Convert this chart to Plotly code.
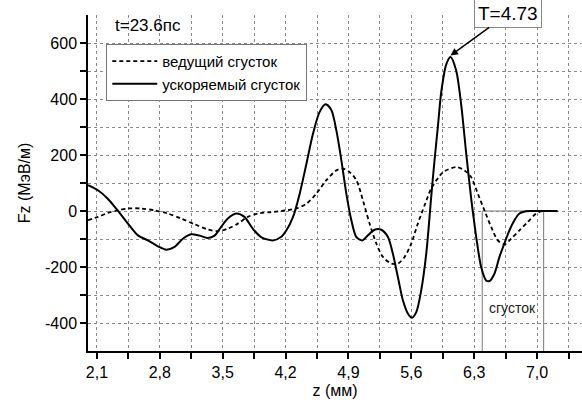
import plotly.graph_objects as go

# ---- data ----
z_acc = [2.00, 2.11, 2.22, 2.33, 2.445, 2.556, 2.667, 2.778, 2.871, 2.964, 3.056, 3.148,
         3.242, 3.334, 3.409, 3.482, 3.557, 3.649, 3.742, 3.834, 3.927, 4.057, 4.149, 4.209,
         4.283, 4.357, 4.432, 4.505, 4.579, 4.646, 4.710, 4.765, 4.821, 4.876, 4.932, 4.988,
         5.054, 5.117, 5.191, 5.265, 5.339, 5.394, 5.450, 5.506, 5.561, 5.606, 5.655, 5.710,
         5.766, 5.821, 5.858, 5.895, 5.933, 5.988, 6.036, 6.099, 6.155, 6.211, 6.266, 6.300,
         6.330, 6.377, 6.433, 6.470, 6.525, 6.581, 6.636, 6.692, 6.748, 6.803, 6.878, 6.950,
         7.229]
f_acc = [92, 74, 44, 2, -45, -87, -105, -126, -138, -128, -99, -83,
         -88, -96, -88, -57, -27, -9, -21, -63, -93, -105, -93, -69,
         -21, 62, 169, 276, 354, 381, 360, 288, 181, 62, -33, -93,
         -105, -87, -67, -67, -93, -152, -236, -319, -366, -381, -361, -283,
         -152, 50, 181, 300, 425, 523, 550, 502, 380, 205, 45, -40,
         -110, -200, -248, -250, -224, -164, -116, -69, -33, -9, -1, 0,
         0]

z_lead = [2.00, 2.111, 2.222, 2.333, 2.445, 2.593, 2.741, 2.889, 3.037, 3.185, 3.334, 3.445,
          3.557, 3.668, 3.779, 3.890, 4.038, 4.224, 4.320, 4.432, 4.543, 4.654, 4.765, 4.839,
          4.913, 4.988, 5.061, 5.135, 5.210, 5.283, 5.377, 5.450, 5.525, 5.599, 5.672, 5.747,
          5.821, 5.914, 5.969, 6.105, 6.192, 6.266, 6.340, 6.414, 6.489, 6.562, 6.636, 6.711,
          6.803, 6.896, 6.989, 7.044, 7.100, 7.229]
f_lead = [-33, -21, -7, 2, 9, 9, 2, -9, -27, -47, -66, -72,
          -63, -45, -21, -9, -4, 3, 9, 26, 62, 110, 145, 151,
          139, 110, 38, -45, -116, -164, -188, -188, -164, -116, -45, 20,
          80, 125, 142, 157, 145, 121, 62, 2, -57, -105, -119, -99,
          -69, -39, -9, -1, 0, 0]

x_tickvals = [2.1, 2.45, 2.8, 3.15, 3.5, 3.85, 4.2, 4.55, 4.9, 5.25, 5.6, 5.95, 6.3, 6.65, 7.0, 7.35]
x_ticktext = ["2,1", "", "2,8", "", "3,5", "", "4,2", "", "4,9", "", "5,6", "", "6,3", "", "7,0", ""]
y_tickvals = [-400, -300, -200, -100, 0, 100, 200, 300, 400, 500, 600]
y_ticktext = ["-400", "", "-200", "", "0", "", "200", "", "400", "", "600"]

bunch_left = 6.389
bunch_right = 7.073
peak_z = 6.036
peak_f = 550

FONT = "Arial, Liberation Sans, sans-serif"

fig = go.Figure()
fig.add_trace(go.Scatter(x=z_lead, y=f_lead, mode="lines", name="ведущий сгусток",
                         line=dict(color="black", width=1.8, dash="4px,3px", shape="spline", smoothing=0.8)))
fig.add_trace(go.Scatter(x=z_acc, y=f_acc, mode="lines", name="ускоряемый сгусток",
                         line=dict(color="black", width=2, shape="spline", smoothing=0.8)))

# bunch region box
fig.add_shape(type="line", x0=bunch_left, x1=bunch_left, y0=-500, y1=0, xref="x", yref="y",
              line=dict(color="#777", width=1), layer="below")
fig.add_shape(type="line", x0=bunch_right, x1=bunch_right, y0=-500, y1=0, xref="x", yref="y",
              line=dict(color="#777", width=1), layer="below")
fig.add_shape(type="line", x0=bunch_left, x1=bunch_right, y0=0, y1=0, xref="x", yref="y",
              line=dict(color="#777", width=1), layer="below")

fig.add_annotation(x=(bunch_left + bunch_right) / 2, y=-345, text="сгусток", showarrow=False,
                   font=dict(family=FONT, size=14, color="#222"))
fig.add_annotation(x=2.278, y=662, xanchor="left", text="t=23.6пс", showarrow=False,
                   font=dict(family=FONT, size=17, color="black"))
fig.add_annotation(x=peak_z, y=peak_f + 5, ax=6.68, ay=706, axref="x", ayref="y",
                   text="T=4.73", showarrow=True, arrowhead=2, arrowsize=1, arrowwidth=1.5,
                   arrowcolor="black", bgcolor="white", bordercolor="#888", borderwidth=1,
                   borderpad=3, font=dict(family=FONT, size=19, color="black"))

grid = dict(showgrid=True, gridcolor="#8a8a8a", gridwidth=1, griddash="3px,3px")
fig.update_xaxes(range=[2.0, 7.5], tickvals=x_tickvals, ticktext=x_ticktext, ticks="outside",
                 ticklen=6, tickwidth=1.5, tickcolor="black", showline=True, linecolor="black",
                 linewidth=1.5, zeroline=False, title=dict(text="z (мм)", standoff=5,
                 font=dict(family=FONT, size=16)), tickfont=dict(family=FONT, size=16), **grid)
fig.update_yaxes(range=[-500, 700], tickvals=y_tickvals, ticktext=y_ticktext, ticks="outside",
                 ticklen=6, tickwidth=1.5, tickcolor="black", showline=True, linecolor="black",
                 linewidth=1.5, zeroline=False, title=dict(text="Fz (МэВ/м)", standoff=10,
                 font=dict(family=FONT, size=16)), tickfont=dict(family=FONT, size=16), **grid)

fig.update_layout(
    width=582, height=405,
    margin=dict(l=88, r=0, t=15, b=54),
    paper_bgcolor="white", plot_bgcolor="white",
    font=dict(family=FONT, size=15, color="black"),
    showlegend=True,
    legend=dict(x=0.037, y=0.914, xanchor="left", yanchor="top", bgcolor="white",
                bordercolor="#777", borderwidth=1, font=dict(family=FONT, size=15),
                tracegroupgap=0, itemwidth=45),
)

fig.write_html("out.html")
